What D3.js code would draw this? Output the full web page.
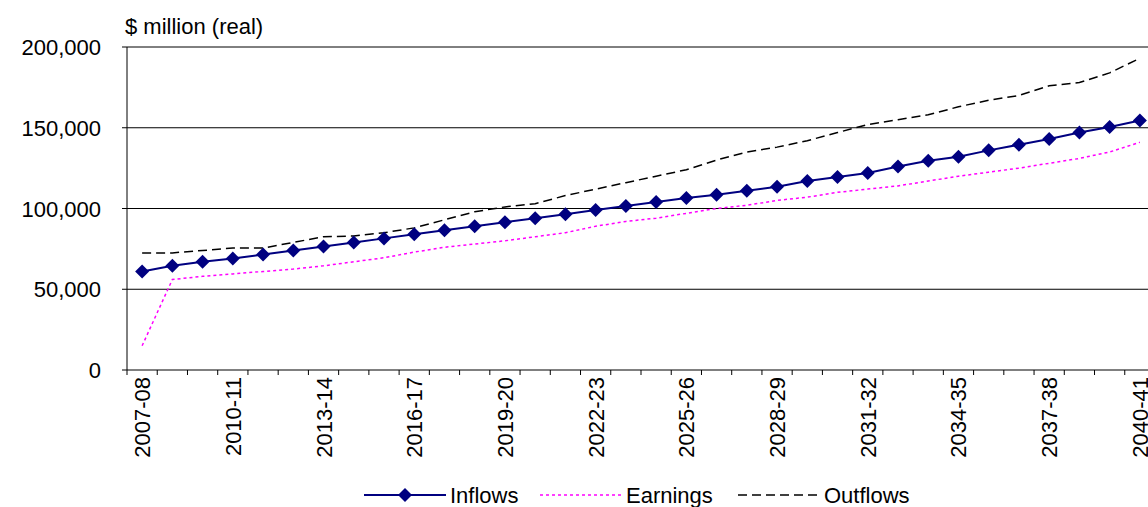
<!DOCTYPE html><html><head><meta charset="utf-8"><script src="https://cdn.jsdelivr.net/npm/d3@7"></script>
<style>body{margin:0;background:#fff}svg{font-family:"Liberation Sans",Arial,sans-serif}</style></head><body><svg width="1148" height="507"></svg>
<script>
const years=[];for(let y=2007;y<=2040;y++)years.push(y+"-"+String((y+1)%100).padStart(2,"0"));
const inflows=[61,64.5,67,69,71.5,74,76.5,79,81.5,84,86.5,89,91.5,94,96.5,99,101.5,104,106.5,108.5,111,113.5,117,119.5,122,126,129.5,132,136,139.5,143,147,150.5,154.5].map(v=>v*1000);
const earnings=[15,56,58,59.5,61,62.5,64.5,67,69.5,73,76,78,80,82.5,85,89,92,94,97,100,102,105,107,110,112,114,117,120,122.5,125,128,131,135,141].map(v=>v*1000);
const outflows=[72.5,72.5,74,75.5,75.5,79,82.5,83,85,88,93,98,101,103,108,112,116,120,124,130,135,138,142,147,152,155,158,163,167,170,176,178,184,193].map(v=>v*1000);
const yTicks=[0,50000,100000,150000,200000];
const svg=d3.select("svg");
const L=127,R=1155,T=47,B=370,FS=22;
const x=d3.scaleBand().domain(years).range([L,R]);
const y=d3.scaleLinear().domain([0,200000]).range([B,T]);
const cx=d=>x(d)+x.bandwidth()/2;
svg.append("g").selectAll("line").data(yTicks.slice(1)).join("line").attr("x1",L).attr("x2",R).attr("y1",y).attr("y2",y).attr("stroke","#000");
svg.append("line").attr("x1",L).attr("x2",L).attr("y1",T).attr("y2",B).attr("stroke","#000");
svg.append("line").attr("x1",L).attr("x2",R).attr("y1",B).attr("y2",B).attr("stroke","#000");
svg.append("g").selectAll("line").data(yTicks).join("line").attr("x1",L-5).attr("x2",L).attr("y1",y).attr("y2",y).attr("stroke","#000");
svg.append("g").selectAll("line").data(years.concat([null])).join("line").attr("x1",(d,i)=>L+i*x.step()).attr("x2",(d,i)=>L+i*x.step()).attr("y1",B).attr("y2",B+5).attr("stroke","#000");
svg.append("g").selectAll("text").data(yTicks).join("text").attr("x",L-26).attr("y",d=>y(d)+8).attr("text-anchor","end").attr("font-size",FS).text(d3.format(","));
svg.append("text").attr("x",125).attr("y",34).attr("font-size",FS).text("$ million (real)");
svg.append("g").selectAll("text").data(years.filter((d,i)=>i%3==0)).join("text").attr("transform",d=>`translate(${cx(d)+8},377) rotate(-90)`).attr("text-anchor","end").attr("font-size",FS).text(d=>d);
const line=d3.line().x((d,i)=>cx(years[i])).y(d=>y(d));
svg.append("path").attr("d",line(outflows)).attr("fill","none").attr("stroke","#000").attr("stroke-width",1.5).attr("stroke-dasharray","9,5");
svg.append("path").attr("d",line(earnings)).attr("fill","none").attr("stroke","#ff00ff").attr("stroke-width",1.5).attr("stroke-dasharray","3,3");
svg.append("path").attr("d",line(inflows)).attr("fill","none").attr("stroke","#000080").attr("stroke-width",2);
const dia="M0,-7L7,0L0,7L-7,0Z";
svg.append("g").selectAll("path").data(inflows).join("path").attr("d",dia).attr("transform",(d,i)=>`translate(${cx(years[i])},${y(d)})`).attr("fill","#000080");
const lg=svg.append("g");
lg.append("line").attr("x1",364).attr("x2",446).attr("y1",495).attr("y2",495).attr("stroke","#000080").attr("stroke-width",2);
lg.append("path").attr("d",dia).attr("transform","translate(405,495)").attr("fill","#000080");
lg.append("text").attr("x",450).attr("y",503).attr("font-size",FS).text("Inflows");
lg.append("line").attr("x1",540).attr("x2",622).attr("y1",495).attr("y2",495).attr("stroke","#ff00ff").attr("stroke-width",1.5).attr("stroke-dasharray","3,3");
lg.append("text").attr("x",626).attr("y",503).attr("font-size",FS).text("Earnings");
lg.append("line").attr("x1",738).attr("x2",820).attr("y1",495).attr("y2",495).attr("stroke","#000").attr("stroke-width",1.5).attr("stroke-dasharray","9,5");
lg.append("text").attr("x",824).attr("y",503).attr("font-size",FS).text("Outflows");
</script></body></html>
